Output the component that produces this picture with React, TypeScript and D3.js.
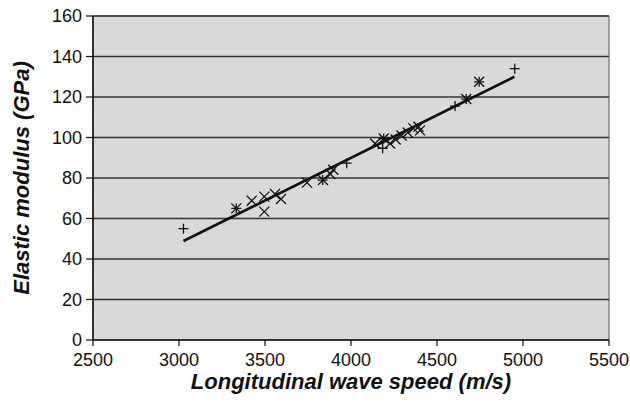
import React from "react";
import * as d3 from "d3";

const xTicks = [2500, 3000, 3500, 4000, 4500, 5000, 5500];
const yTicks = [0, 20, 40, 60, 80, 100, 120, 140, 160];

// "+" markers
const plusX = [3026, 3333, 3835, 3975, 4184, 4190, 4605, 4670, 4745, 4952];
const plusY = [55, 65, 79, 87.3, 94.7, 99.5, 115.5, 119, 127.5, 134];

// "×" markers
const crossX = [3333, 3423, 3496, 3496, 3558, 3593, 3744, 3837, 3880, 3897, 4140, 4190, 4227, 4260, 4294, 4330, 4363, 4392, 4401, 4670, 4745];
const crossY = [65, 68.8, 70.8, 63.4, 72.1, 69.6, 77.7, 79, 82, 84.1, 97, 99.5, 97, 99, 101, 102.5, 104.5, 105.3, 103.5, 119, 127.5];

// trend line end points
const lineX = [3026, 4950];
const lineY = [48.9, 130];

const W = 630, H = 404;
const left = 93, right = 609, top = 16, bottom = 340;

export default function App() {
  const x = d3.scaleLinear().domain([2500, 5500]).range([left, right]);
  const y = d3.scaleLinear().domain([0, 160]).range([bottom, top]);
  const line = d3.line<number>().x((d, i) => x(lineX[i])).y((d, i) => y(lineY[i]));
  const s = 5;
  return (
    <svg width={W} height={H} style={{ position: "absolute", left: 0, top: 0, background: "#fff" }}
      fontFamily="Liberation Sans, Arial, sans-serif">
      <rect x={left} y={top} width={right - left} height={bottom - top} fill="#d8d9d8" stroke="#555" strokeWidth={1} />
      {yTicks.filter(t => t > 0).map(t => (
        <line key={t} x1={left} x2={right} y1={y(t)} y2={y(t)} stroke="#333" strokeWidth={1.5} />
      ))}
      <line x1={left} x2={left} y1={top} y2={bottom} stroke="#111" strokeWidth={1.5} />
      <line x1={left} x2={right} y1={bottom} y2={bottom} stroke="#111" strokeWidth={1.5} />
      {yTicks.map(t => (
        <g key={t}>
          <line x1={left - 7} x2={left} y1={y(t)} y2={y(t)} stroke="#111" strokeWidth={1.2} />
          <text x={left - 11} y={y(t)} dy="0.35em" textAnchor="end" fontSize={18} fill="#111">{t}</text>
        </g>
      ))}
      {xTicks.map(t => (
        <g key={t}>
          <line x1={x(t)} x2={x(t)} y1={bottom} y2={bottom + 6} stroke="#111" strokeWidth={1.2} />
          <text x={x(t)} y={bottom + 26} textAnchor="middle" fontSize={18} fill="#111">{t}</text>
        </g>
      ))}
      <path d={line(lineX) || ""} fill="none" stroke="#111" strokeWidth={2.6} />
      {plusX.map((v, i) => (
        <path key={"p" + i} d={`M${x(v) - s},${y(plusY[i])}h${2 * s}M${x(v)},${y(plusY[i]) - s}v${2 * s}`} stroke="#111" strokeWidth={1.3} />
      ))}
      {crossX.map((v, i) => (
        <path key={"c" + i} d={`M${x(v) - s},${y(crossY[i]) - s}l${2 * s},${2 * s}M${x(v) - s},${y(crossY[i]) + s}l${2 * s},${-2 * s}`} stroke="#111" strokeWidth={1.3} />
      ))}
      <text x={(left + right) / 2} y={389} textAnchor="middle" fontSize={22} fontWeight="bold" fontStyle="italic" fill="#111">Longitudinal wave speed (m/s)</text>
      <text transform={`translate(29,${(top + bottom) / 2}) rotate(-90)`} textAnchor="middle" fontSize={22} fontWeight="bold" fontStyle="italic" fill="#111">Elastic modulus (GPa)</text>
    </svg>
  );
}
